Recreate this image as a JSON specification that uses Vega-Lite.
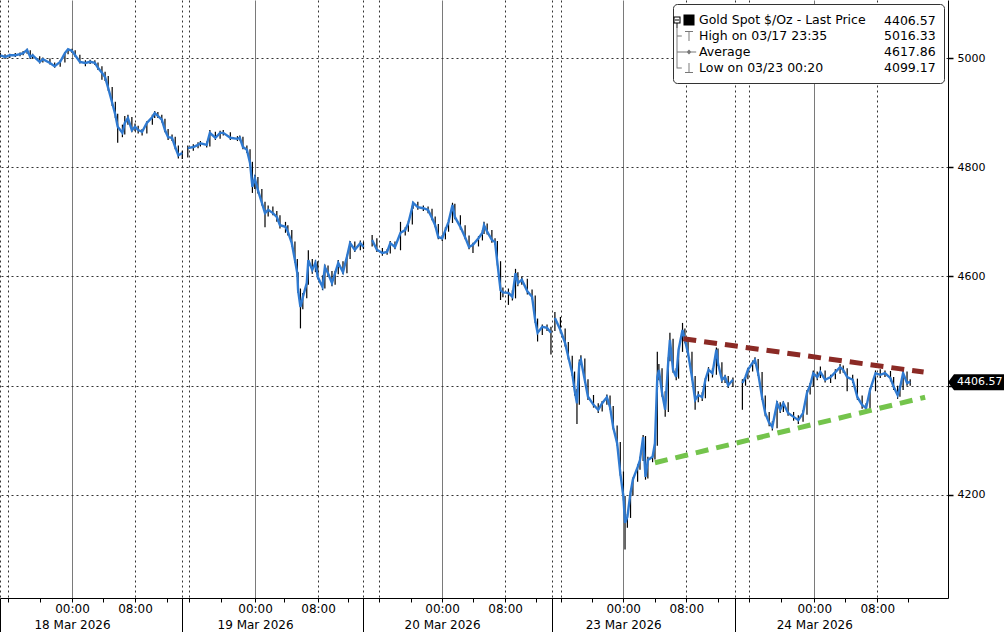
{
  "$schema": "https://vega.github.io/schema/vega-lite/v6.json",
  "width": 948,
  "height": 598,
  "autosize": {"type": "none"},
  "padding": {"left": 0, "top": 0, "right": 56, "bottom": 34},
  "background": "white",
  "config": {
    "view": {"stroke": null},
    "font": "DejaVu Sans",
    "axis": {"labelFont": "DejaVu Sans", "labelColor": "black", "tickColor": "black", "domainColor": "black"}
  },
  "datasets": {
    "px": [
      {"t":-9.1,"c":5005,"h":5009,"l":5001,"s":0},
      {"t":-8.5,"c":5002,"h":5007,"l":4998,"s":0},
      {"t":-7.9,"c":5005,"h":5008,"l":5000,"s":0},
      {"t":-7.2,"c":5005,"h":5009,"l":5002,"s":0},
      {"t":-6.6,"c":5007,"h":5010,"l":5003,"s":0},
      {"t":-6.2,"c":5009,"h":5013,"l":5005,"s":0},
      {"t":-5.7,"c":5015,"h":5017,"l":5008,"s":0},
      {"t":-5.3,"c":5002,"h":5014,"l":4998,"s":0},
      {"t":-5.0,"c":5005,"h":5008,"l":5000,"s":0},
      {"t":-4.1,"c":4993,"h":5003,"l":4990,"s":0},
      {"t":-3.7,"c":4998,"h":5001,"l":4992,"s":0},
      {"t":-2.8,"c":4991,"h":4999,"l":4988,"s":0},
      {"t":-2.2,"c":4985,"h":4992,"l":4982,"s":0},
      {"t":-1.5,"c":4993,"h":4996,"l":4984,"s":0},
      {"t":-0.9,"c":5009,"h":5011,"l":4992,"s":0},
      {"t":-0.5,"c":5016,"h":5016,"l":5007,"s":0},
      {"t":0.0,"c":5013,"h":5017,"l":5009,"s":0},
      {"t":0.4,"c":5005,"h":5014,"l":5002,"s":0},
      {"t":1.0,"c":4993,"h":5006,"l":4990,"s":0},
      {"t":1.7,"c":4991,"h":4996,"l":4985,"s":0},
      {"t":2.3,"c":4993,"h":4997,"l":4989,"s":0},
      {"t":2.9,"c":4991,"h":4996,"l":4987,"s":0},
      {"t":3.3,"c":4982,"h":4992,"l":4978,"s":0},
      {"t":3.8,"c":4973,"h":4985,"l":4960,"s":0},
      {"t":4.2,"c":4965,"h":4975,"l":4958,"s":0},
      {"t":4.6,"c":4945,"h":4967,"l":4940,"s":0},
      {"t":5.1,"c":4918,"h":4947,"l":4912,"s":0},
      {"t":5.5,"c":4896,"h":4920,"l":4890,"s":0},
      {"t":5.8,"c":4874,"h":4898,"l":4845,"s":0},
      {"t":6.4,"c":4863,"h":4878,"l":4855,"s":0},
      {"t":6.7,"c":4881,"h":4894,"l":4860,"s":0},
      {"t":7.1,"c":4890,"h":4896,"l":4878,"s":0},
      {"t":7.6,"c":4868,"h":4892,"l":4864,"s":0},
      {"t":8.0,"c":4874,"h":4880,"l":4866,"s":0},
      {"t":8.4,"c":4868,"h":4876,"l":4862,"s":0},
      {"t":8.9,"c":4865,"h":4870,"l":4858,"s":0},
      {"t":9.5,"c":4881,"h":4884,"l":4862,"s":0},
      {"t":10.2,"c":4892,"h":4896,"l":4878,"s":0},
      {"t":10.5,"c":4899,"h":4903,"l":4890,"s":0},
      {"t":10.9,"c":4894,"h":4901,"l":4890,"s":0},
      {"t":11.4,"c":4887,"h":4896,"l":4882,"s":0},
      {"t":11.8,"c":4868,"h":4889,"l":4864,"s":0},
      {"t":12.2,"c":4855,"h":4870,"l":4850,"s":0},
      {"t":12.7,"c":4854,"h":4860,"l":4848,"s":0},
      {"t":13.1,"c":4837,"h":4856,"l":4833,"s":0},
      {"t":13.5,"c":4822,"h":4840,"l":4816,"s":0},
      {"t":14.0,"c":4826,"h":4830,"l":4815,"s":0},
      {"t":14.7,"c":4835,"h":4840,"l":4818,"s":1},
      {"t":15.4,"c":4837,"h":4842,"l":4830,"s":1},
      {"t":16.0,"c":4841,"h":4846,"l":4835,"s":1},
      {"t":16.3,"c":4844,"h":4848,"l":4838,"s":1},
      {"t":17.1,"c":4841,"h":4847,"l":4836,"s":1},
      {"t":17.5,"c":4863,"h":4868,"l":4838,"s":1},
      {"t":18.2,"c":4854,"h":4865,"l":4850,"s":1},
      {"t":18.8,"c":4863,"h":4867,"l":4852,"s":1},
      {"t":19.2,"c":4863,"h":4868,"l":4858,"s":1},
      {"t":20.1,"c":4854,"h":4864,"l":4850,"s":1},
      {"t":21.0,"c":4852,"h":4857,"l":4848,"s":1},
      {"t":21.3,"c":4854,"h":4858,"l":4849,"s":1},
      {"t":21.7,"c":4837,"h":4856,"l":4833,"s":1},
      {"t":22.2,"c":4832,"h":4840,"l":4826,"s":1},
      {"t":22.6,"c":4808,"h":4833,"l":4803,"s":1},
      {"t":22.9,"c":4764,"h":4810,"l":4753,"s":1},
      {"t":23.2,"c":4780,"h":4786,"l":4760,"s":1},
      {"t":23.6,"c":4758,"h":4782,"l":4752,"s":1},
      {"t":24.1,"c":4735,"h":4760,"l":4730,"s":1},
      {"t":24.5,"c":4716,"h":4737,"l":4690,"s":1},
      {"t":24.9,"c":4722,"h":4730,"l":4710,"s":1},
      {"t":25.5,"c":4716,"h":4728,"l":4712,"s":1},
      {"t":26.0,"c":4709,"h":4720,"l":4700,"s":1},
      {"t":26.4,"c":4694,"h":4712,"l":4688,"s":1},
      {"t":27.1,"c":4691,"h":4700,"l":4680,"s":1},
      {"t":27.4,"c":4682,"h":4694,"l":4675,"s":1},
      {"t":27.9,"c":4661,"h":4685,"l":4655,"s":1},
      {"t":28.3,"c":4630,"h":4664,"l":4625,"s":1},
      {"t":28.6,"c":4606,"h":4632,"l":4600,"s":1},
      {"t":28.7,"c":4575,"h":4608,"l":4570,"s":1},
      {"t":29.0,"c":4544,"h":4578,"l":4505,"s":1},
      {"t":29.3,"c":4562,"h":4570,"l":4540,"s":1},
      {"t":29.8,"c":4588,"h":4595,"l":4560,"s":1},
      {"t":30.0,"c":4630,"h":4648,"l":4585,"s":1},
      {"t":30.5,"c":4612,"h":4632,"l":4605,"s":1},
      {"t":30.9,"c":4625,"h":4630,"l":4608,"s":1},
      {"t":31.2,"c":4599,"h":4628,"l":4595,"s":1},
      {"t":31.8,"c":4581,"h":4602,"l":4575,"s":1},
      {"t":32.1,"c":4617,"h":4622,"l":4578,"s":1},
      {"t":32.5,"c":4606,"h":4620,"l":4600,"s":1},
      {"t":33.0,"c":4588,"h":4610,"l":4582,"s":1},
      {"t":33.4,"c":4606,"h":4610,"l":4585,"s":1},
      {"t":33.8,"c":4625,"h":4630,"l":4604,"s":1},
      {"t":34.4,"c":4608,"h":4628,"l":4604,"s":1},
      {"t":34.9,"c":4636,"h":4640,"l":4606,"s":1},
      {"t":35.3,"c":4661,"h":4665,"l":4632,"s":1},
      {"t":35.9,"c":4649,"h":4664,"l":4645,"s":1},
      {"t":36.6,"c":4661,"h":4666,"l":4648,"s":1},
      {"t":37.0,"c":4654,"h":4663,"l":4650,"s":1},
      {"t":38.1,"c":4667,"h":4676,"l":4655,"s":2},
      {"t":38.7,"c":4649,"h":4670,"l":4645,"s":2},
      {"t":39.4,"c":4643,"h":4652,"l":4638,"s":2},
      {"t":40.0,"c":4645,"h":4650,"l":4640,"s":2},
      {"t":40.4,"c":4661,"h":4665,"l":4642,"s":2},
      {"t":41.0,"c":4654,"h":4664,"l":4650,"s":2},
      {"t":41.7,"c":4680,"h":4700,"l":4648,"s":2},
      {"t":42.3,"c":4685,"h":4690,"l":4675,"s":2},
      {"t":42.7,"c":4698,"h":4702,"l":4682,"s":2},
      {"t":43.2,"c":4727,"h":4730,"l":4695,"s":2},
      {"t":43.3,"c":4735,"h":4737,"l":4724,"s":2},
      {"t":43.9,"c":4727,"h":4737,"l":4722,"s":2},
      {"t":44.6,"c":4725,"h":4730,"l":4720,"s":2},
      {"t":45.2,"c":4722,"h":4728,"l":4716,"s":2},
      {"t":45.7,"c":4707,"h":4724,"l":4703,"s":2},
      {"t":46.1,"c":4694,"h":4710,"l":4690,"s":2},
      {"t":46.5,"c":4672,"h":4696,"l":4668,"s":2},
      {"t":47.0,"c":4670,"h":4676,"l":4665,"s":2},
      {"t":47.4,"c":4685,"h":4690,"l":4668,"s":2},
      {"t":47.8,"c":4700,"h":4705,"l":4682,"s":2},
      {"t":48.3,"c":4731,"h":4735,"l":4698,"s":2},
      {"t":48.6,"c":4709,"h":4733,"l":4705,"s":2},
      {"t":49.3,"c":4691,"h":4712,"l":4686,"s":2},
      {"t":49.9,"c":4672,"h":4694,"l":4668,"s":2},
      {"t":50.4,"c":4654,"h":4675,"l":4650,"s":2},
      {"t":50.9,"c":4658,"h":4662,"l":4643,"s":2},
      {"t":51.6,"c":4670,"h":4674,"l":4655,"s":2},
      {"t":52.1,"c":4680,"h":4685,"l":4666,"s":2},
      {"t":52.3,"c":4694,"h":4700,"l":4678,"s":2},
      {"t":52.7,"c":4682,"h":4697,"l":4677,"s":2},
      {"t":53.3,"c":4667,"h":4685,"l":4662,"s":2},
      {"t":53.7,"c":4663,"h":4670,"l":4658,"s":2},
      {"t":54.0,"c":4625,"h":4665,"l":4620,"s":2},
      {"t":54.4,"c":4575,"h":4628,"l":4557,"s":2},
      {"t":54.7,"c":4571,"h":4580,"l":4562,"s":2},
      {"t":55.4,"c":4570,"h":4578,"l":4548,"s":2},
      {"t":55.9,"c":4563,"h":4575,"l":4556,"s":2},
      {"t":56.3,"c":4606,"h":4614,"l":4560,"s":2},
      {"t":56.6,"c":4588,"h":4608,"l":4582,"s":2},
      {"t":57.1,"c":4594,"h":4600,"l":4585,"s":2},
      {"t":57.8,"c":4573,"h":4596,"l":4567,"s":2},
      {"t":58.4,"c":4563,"h":4576,"l":4558,"s":2},
      {"t":58.8,"c":4520,"h":4565,"l":4515,"s":2},
      {"t":59.1,"c":4497,"h":4523,"l":4481,"s":2},
      {"t":59.7,"c":4508,"h":4512,"l":4493,"s":2},
      {"t":60.3,"c":4506,"h":4512,"l":4500,"s":2},
      {"t":60.8,"c":4497,"h":4508,"l":4457,"s":2},
      {"t":61.3,"c":4524,"h":4535,"l":4500,"s":3},
      {"t":62.0,"c":4502,"h":4526,"l":4496,"s":3},
      {"t":62.6,"c":4478,"h":4505,"l":4472,"s":3},
      {"t":63.0,"c":4453,"h":4480,"l":4448,"s":3},
      {"t":63.5,"c":4423,"h":4455,"l":4418,"s":3},
      {"t":63.8,"c":4392,"h":4426,"l":4382,"s":3},
      {"t":64.1,"c":4368,"h":4394,"l":4330,"s":3},
      {"t":64.4,"c":4441,"h":4448,"l":4365,"s":3},
      {"t":64.6,"c":4447,"h":4456,"l":4438,"s":3},
      {"t":65.1,"c":4410,"h":4450,"l":4405,"s":3},
      {"t":65.5,"c":4380,"h":4412,"l":4374,"s":3},
      {"t":66.2,"c":4365,"h":4383,"l":4360,"s":3},
      {"t":66.8,"c":4356,"h":4368,"l":4350,"s":3},
      {"t":67.3,"c":4368,"h":4372,"l":4353,"s":3},
      {"t":67.9,"c":4379,"h":4384,"l":4365,"s":3},
      {"t":68.3,"c":4361,"h":4382,"l":4356,"s":3},
      {"t":68.7,"c":4324,"h":4363,"l":4320,"s":3},
      {"t":69.2,"c":4295,"h":4327,"l":4290,"s":3},
      {"t":69.6,"c":4240,"h":4297,"l":4235,"s":3},
      {"t":70.0,"c":4196,"h":4243,"l":4190,"s":3},
      {"t":70.2,"c":4149,"h":4198,"l":4100,"s":3},
      {"t":70.5,"c":4160,"h":4165,"l":4140,"s":3},
      {"t":70.9,"c":4204,"h":4208,"l":4158,"s":3},
      {"t":71.2,"c":4228,"h":4232,"l":4200,"s":3},
      {"t":71.8,"c":4251,"h":4256,"l":4224,"s":3},
      {"t":72.1,"c":4264,"h":4270,"l":4246,"s":3},
      {"t":72.5,"c":4306,"h":4310,"l":4262,"s":3},
      {"t":72.8,"c":4233,"h":4308,"l":4228,"s":3},
      {"t":73.1,"c":4264,"h":4270,"l":4230,"s":3},
      {"t":73.7,"c":4270,"h":4275,"l":4260,"s":3},
      {"t":74.0,"c":4295,"h":4300,"l":4265,"s":3},
      {"t":74.3,"c":4416,"h":4462,"l":4290,"s":3},
      {"t":74.5,"c":4429,"h":4440,"l":4410,"s":3},
      {"t":74.9,"c":4387,"h":4432,"l":4380,"s":3},
      {"t":75.3,"c":4356,"h":4390,"l":4343,"s":3},
      {"t":75.7,"c":4447,"h":4452,"l":4352,"s":3},
      {"t":75.9,"c":4484,"h":4497,"l":4445,"s":3},
      {"t":76.3,"c":4429,"h":4486,"l":4424,"s":3},
      {"t":76.7,"c":4416,"h":4432,"l":4410,"s":3},
      {"t":77.0,"c":4466,"h":4470,"l":4413,"s":3},
      {"t":77.5,"c":4502,"h":4515,"l":4462,"s":3},
      {"t":77.8,"c":4484,"h":4505,"l":4478,"s":3},
      {"t":78.2,"c":4460,"h":4487,"l":4455,"s":3},
      {"t":78.7,"c":4416,"h":4462,"l":4410,"s":3},
      {"t":79.1,"c":4374,"h":4418,"l":4356,"s":3},
      {"t":79.5,"c":4383,"h":4390,"l":4370,"s":3},
      {"t":80.0,"c":4379,"h":4388,"l":4372,"s":3},
      {"t":80.4,"c":4411,"h":4414,"l":4377,"s":3},
      {"t":80.8,"c":4429,"h":4434,"l":4408,"s":3},
      {"t":81.3,"c":4423,"h":4432,"l":4415,"s":3},
      {"t":81.8,"c":4466,"h":4470,"l":4420,"s":3},
      {"t":82.0,"c":4441,"h":4468,"l":4436,"s":3},
      {"t":82.5,"c":4411,"h":4443,"l":4405,"s":3},
      {"t":82.9,"c":4416,"h":4420,"l":4405,"s":3},
      {"t":83.3,"c":4401,"h":4418,"l":4396,"s":3},
      {"t":83.9,"c":4411,"h":4415,"l":4398,"s":3},
      {"t":85.1,"c":4405,"h":4412,"l":4356,"s":4},
      {"t":85.5,"c":4416,"h":4420,"l":4400,"s":4},
      {"t":85.8,"c":4429,"h":4433,"l":4412,"s":4},
      {"t":86.4,"c":4442,"h":4446,"l":4426,"s":4},
      {"t":86.7,"c":4447,"h":4452,"l":4440,"s":4},
      {"t":87.1,"c":4423,"h":4449,"l":4418,"s":4},
      {"t":87.6,"c":4379,"h":4425,"l":4374,"s":4},
      {"t":88.0,"c":4350,"h":4382,"l":4344,"s":4},
      {"t":88.5,"c":4332,"h":4352,"l":4326,"s":4},
      {"t":88.9,"c":4325,"h":4335,"l":4318,"s":4},
      {"t":89.5,"c":4368,"h":4372,"l":4322,"s":4},
      {"t":89.9,"c":4356,"h":4370,"l":4350,"s":4},
      {"t":90.3,"c":4368,"h":4372,"l":4352,"s":4},
      {"t":90.9,"c":4350,"h":4370,"l":4345,"s":4},
      {"t":91.6,"c":4343,"h":4352,"l":4336,"s":4},
      {"t":92.2,"c":4337,"h":4346,"l":4330,"s":4},
      {"t":92.8,"c":4350,"h":4355,"l":4334,"s":4},
      {"t":93.3,"c":4387,"h":4392,"l":4347,"s":4},
      {"t":93.7,"c":4401,"h":4405,"l":4384,"s":4},
      {"t":94.1,"c":4423,"h":4428,"l":4398,"s":4},
      {"t":94.6,"c":4416,"h":4426,"l":4410,"s":4},
      {"t":95.0,"c":4425,"h":4435,"l":4414,"s":4},
      {"t":95.6,"c":4411,"h":4428,"l":4406,"s":4},
      {"t":96.3,"c":4416,"h":4420,"l":4405,"s":4},
      {"t":96.9,"c":4425,"h":4430,"l":4412,"s":4},
      {"t":97.5,"c":4434,"h":4440,"l":4422,"s":4},
      {"t":97.9,"c":4429,"h":4437,"l":4424,"s":4},
      {"t":98.4,"c":4416,"h":4432,"l":4390,"s":4},
      {"t":99.1,"c":4411,"h":4420,"l":4405,"s":4},
      {"t":99.7,"c":4379,"h":4413,"l":4374,"s":4},
      {"t":100.3,"c":4365,"h":4382,"l":4358,"s":4},
      {"t":100.8,"c":4359,"h":4368,"l":4352,"s":4},
      {"t":101.3,"c":4392,"h":4396,"l":4356,"s":4},
      {"t":102.0,"c":4423,"h":4428,"l":4390,"s":4},
      {"t":102.6,"c":4420,"h":4430,"l":4414,"s":4},
      {"t":103.2,"c":4423,"h":4428,"l":4416,"s":4},
      {"t":103.9,"c":4414,"h":4427,"l":4408,"s":4},
      {"t":104.3,"c":4398,"h":4416,"l":4392,"s":4},
      {"t":104.8,"c":4383,"h":4400,"l":4376,"s":4},
      {"t":105.1,"c":4396,"h":4400,"l":4380,"s":4},
      {"t":105.5,"c":4423,"h":4430,"l":4392,"s":4},
      {"t":106.0,"c":4405,"h":4426,"l":4400,"s":4},
      {"t":106.4,"c":4407,"h":4412,"l":4400,"s":4}
    ],
    "trend": [
      {"line": "resistance", "t": 77.6, "p": 4486},
      {"line": "resistance", "t": 108.1, "p": 4425},
      {"line": "support", "t": 74.0, "p": 4259},
      {"line": "support", "t": 108.3, "p": 4379}
    ],
    "last": [{"p": 4406.57, "lab": "4406.57"}]
  },
  "layer": [
    {
      "data": {"name": "px"},
      "mark": {"type": "rule", "color": "black", "strokeWidth": 1.2},
      "encoding": {
        "x": {
          "field": "t", "type": "quantitative",
          "scale": {"domain": [-9.14, 111.2], "nice": false, "zero": false},
          "axis": {
            "title": null,
            "tickCount": 200,
            "values": [-9.14, -8.13, -4.06, 0, 3.94, 8, 12.06, 13.97, 14.86, 18.92, 23.24, 26.92, 31.24, 35.05, 36.95, 38.98, 43.05, 46.98, 50.92, 54.98, 58.92, 60.95, 62.1, 66.03, 69.97, 74.03, 77.97, 82.03, 84.19, 85.97, 90.03, 94.22, 98.16, 102.22, 106.16],
            "labelExpr": "datum.value===0?['00:00','18 Mar 2026']:datum.value===23.24?['00:00','19 Mar 2026']:datum.value===46.98?['00:00','20 Mar 2026']:datum.value===69.97?['00:00','23 Mar 2026']:datum.value===94.22?['00:00','24 Mar 2026']:indexof([8,31.24,54.98,77.97,102.22],datum.value)>=0?'08:00':''",
            "labelFontSize": 12,
            "labelLineHeight": 16,
            "labelPadding": 1,
            "labelOverlap": false,
            "labelFlush": false,
            "labelBound": false,
            "domainColor": "black",
            "tickColor": "black",
            "tickSize": {"condition": {"test": "indexof([-9.14,13.97,36.95,60.95,84.19], datum.value) >= 0", "value": 34}, "value": 4},
            "grid": true,
            "gridColor": {"condition": {"test": "indexof([0,23.24,46.98,69.97,94.22], datum.value) >= 0", "value": "#7a7a7a"}, "value": "#333333"},
            "gridDash": {"condition": {"test": "indexof([0,23.24,46.98,69.97,94.22], datum.value) >= 0", "value": []}, "value": [2, 3]},
            "gridOpacity": {"condition": {"test": "indexof([0,23.24,46.98,69.97,94.22,-9.14,13.97,36.95,60.95,84.19,-8.13,14.86,38.98,62.1,85.97,8,31.24,54.98,77.97,102.22], datum.value) >= 0", "value": 1}, "value": 0}
          }
        },
        "y": {
          "field": "l", "type": "quantitative",
          "scale": {"domain": [4011.4, 5106.2], "nice": false, "zero": false},
          "axis": {
            "title": null,
            "orient": "right",
            "tickCount": 50,
            "values": [4200, 4400, 4600, 4800, 5000],
            "labelExpr": "datum.value === 4400 ? '' : datum.label",
            "format": "d",
            "labelFontSize": 11,
            "labelPadding": 4,
            "tickSize": 5,
            "tickWidth": 1.5,
            "tickColor": "black",
            "domainColor": "black",
            "grid": true,
            "gridColor": "#333333",
            "gridDash": [2, 3]
          }
        },
        "y2": {"field": "h"}
      }
    },
    {
      "data": {"name": "px"},
      "mark": {"type": "line", "color": "#2f7ad1", "strokeWidth": 2.4},
      "encoding": {
        "x": {"field": "t", "type": "quantitative"},
        "y": {"field": "c", "type": "quantitative"},
        "detail": {"field": "s"}
      }
    },
    {
      "data": {"name": "trend"},
      "transform": [{"filter": "datum.line === 'resistance'"}],
      "mark": {"type": "line", "color": "#8b2a25", "strokeWidth": 5, "strokeDash": [13, 8]},
      "encoding": {
        "x": {"field": "t", "type": "quantitative"},
        "y": {"field": "p", "type": "quantitative"}
      }
    },
    {
      "data": {"name": "trend"},
      "transform": [{"filter": "datum.line === 'support'"}],
      "mark": {"type": "line", "color": "#74c44c", "strokeWidth": 5, "strokeDash": [13, 8]},
      "encoding": {
        "x": {"field": "t", "type": "quantitative"},
        "y": {"field": "p", "type": "quantitative"}
      }
    },
    {
      "data": {"name": "px"},
      "transform": [{"filter": "false"}, {"calculate": "'x'", "as": "leg"}],
      "mark": {"type": "point", "filled": true, "opacity": 1, "size": 256},
      "encoding": {
        "color": {
          "field": "leg", "type": "nominal",
          "scale": {
            "domain": ["Gold Spot $/Oz - Last Price", "4406.57", "High on 03/17 23:35", "5016.33", "Average", "4617.86", "Low on 03/23 00:20", "4099.17"],
            "range": ["black", "black", "#777777", "black", "#777777", "black", "#777777", "black"]
          },
          "legend": {
            "title": null, "orient": "top-right", "offset": 4, "columns": 2, "direction": "horizontal", "columnPadding": -15,
            "padding": 8, "fillColor": "white", "strokeColor": "#333333", "cornerRadius": 4,
            "symbolSize": 256, "symbolStrokeWidth": 0, "symbolOpacity": 1,
            "labelFont": "DejaVu Sans", "labelFontSize": 12.5, "labelColor": "black", "labelOffset": 2, "labelLimit": 300,
            "rowPadding": 0
          }
        },
        "shape": {
          "field": "leg", "type": "nominal",
          "scale": {
            "domain": ["Gold Spot $/Oz - Last Price", "4406.57", "High on 03/17 23:35", "5016.33", "Average", "4617.86", "Low on 03/23 00:20", "4099.17"],
            "range": [
              "M-1.94,-0.44L-1.06,-0.44L-1.06,0.44L-1.94,0.44Z M-1.81,-0.31L-1.81,0.31L-1.19,0.31L-1.19,-0.31Z M-1.75,-0.06L-1.25,-0.06L-1.25,0.06L-1.75,0.06Z M-1.56,0.44L-1.44,0.44L-1.44,1L-1.56,1Z M-0.69,-0.69L0.69,-0.69L0.69,0.69L-0.69,0.69Z",
              "M0,0L0,0",
              "M-1.56,-1L-1.44,-1L-1.44,1L-1.56,1Z M-1.44,-0.06L-0.9,-0.06L-0.9,0.06L-1.44,0.06Z M-0.5,-0.62L0.5,-0.62L0.5,-0.5L-0.5,-0.5Z M-0.06,-0.5L0.06,-0.5L0.06,0.62L-0.06,0.62Z",
              "M0,0L0,0",
              "M-1.56,-1L-1.44,-1L-1.44,1L-1.56,1Z M-1.44,-0.06L0.9,-0.06L0.9,0.06L-1.44,0.06Z M0,-0.3L0.3,0L0,0.3L-0.3,0Z",
              "M0,0L0,0",
              "M-1.56,-1L-1.44,-1L-1.44,0.06L-1.56,0.06Z M-1.44,-0.06L-0.9,-0.06L-0.9,0.06L-1.44,0.06Z M-0.06,-0.62L0.06,-0.62L0.06,0.5L-0.06,0.5Z M-0.5,0.5L0.5,0.5L0.5,0.62L-0.5,0.62Z",
              "M0,0L0,0"
            ]
          },
          "legend": {
            "title": null, "orient": "top-right", "offset": 4, "columns": 2, "direction": "horizontal", "columnPadding": -15,
            "padding": 8, "fillColor": "white", "strokeColor": "#333333", "cornerRadius": 4,
            "symbolSize": 256, "symbolStrokeWidth": 0, "symbolOpacity": 1,
            "labelFont": "DejaVu Sans", "labelFontSize": 12.5, "labelColor": "black", "labelOffset": 2, "labelLimit": 300,
            "rowPadding": 0
          }
        }
      }
    },
    {
      "data": {"name": "last"},
      "mark": {"type": "point", "filled": true, "opacity": 1, "color": "black", "strokeWidth": 0, "size": 3136, "shape": "M0,0L0.214,-0.286L2,-0.286L2,0.286L0.214,0.286Z"},
      "encoding": {
        "x": {"datum": 111.2, "type": "quantitative"},
        "y": {"field": "p", "type": "quantitative"}
      }
    },
    {
      "data": {"name": "last"},
      "mark": {"type": "text", "align": "left", "baseline": "middle", "dx": 9, "color": "white", "font": "DejaVu Sans", "fontSize": 11},
      "encoding": {
        "x": {"datum": 111.2, "type": "quantitative"},
        "y": {"field": "p", "type": "quantitative"},
        "text": {"field": "lab"}
      }
    }
  ]
}
